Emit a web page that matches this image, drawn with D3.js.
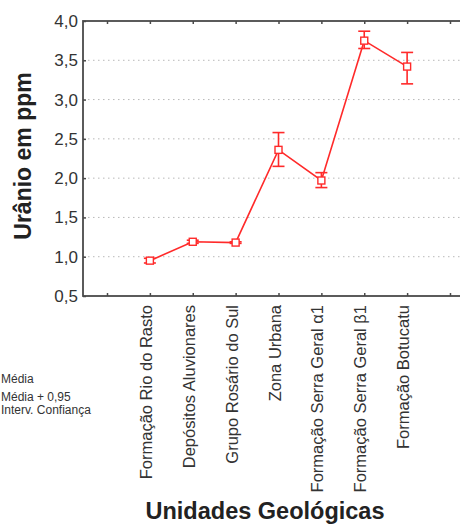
<!DOCTYPE html>
<html>
<head>
<meta charset="utf-8">
<script src="https://cdn.jsdelivr.net/npm/d3@7"></script>
<style>
  html, body { margin: 0; padding: 0; background: #fff; }
  svg { display: block; font-family: "Liberation Sans", Arial, sans-serif; }
</style>
</head>
<body>
<svg id="chart" width="460" height="524"></svg>
<script>
// Geological units and uranium concentration (ppm): mean with 95% confidence interval
const units = [
  "Formação Rio do Rasto",
  "Depósitos Aluvionares",
  "Grupo Rosário do Sul",
  "Zona Urbana",
  "Formação Serra Geral α1",
  "Formação Serra Geral β1",
  "Formação Botucatu"
];
const means = [0.95, 1.19, 1.18, 2.36, 1.97, 3.75, 3.42];
const ciLow = [0.92, 1.17, 1.17, 2.15, 1.88, 3.65, 3.20];
const ciHigh = [0.98, 1.21, 1.19, 2.58, 2.07, 3.87, 3.60];
const yTicks = [0.5, 1.0, 1.5, 2.0, 2.5, 3.0, 3.5, 4.0];
const legendLabels = ["Média", "Média + 0,95", "Interv. Confiança"];

const svg = d3.select("#chart");
const red = "#ff2a2a";
const frameColor = "#4a4a4a";

// x: category slots, with one empty slot on either side
const x = d3.scaleLinear().domain([-0.56, 8.56]).range([83, 474]);
const y = d3.scaleLinear().domain([0.5, 4.0]).range([296, 21]);
const slot = i => i + 1;

const plotL = x.range()[0], plotR = x.range()[1];
const plotT = y.range()[1], plotB = y.range()[0];

// dotted horizontal grid
svg.append("g")
  .selectAll("line")
  .data(yTicks.filter(t => t > 0.5 && t < 4.0))
  .join("line")
  .attr("x1", plotL).attr("x2", plotR)
  .attr("y1", d => y(d)).attr("y2", d => y(d))
  .attr("stroke", "#b8b8b8")
  .attr("stroke-width", 1)
  .attr("stroke-dasharray", "1.5,3.5");

// y axis with comma decimals
const fmt = d => d.toFixed(1).replace(".", ",");
const yAxis = svg.append("g")
  .attr("transform", `translate(${plotL},0)`)
  .call(d3.axisLeft(y).tickValues(yTicks).tickFormat(fmt).tickSize(-3).tickPadding(5));
yAxis.select(".domain").remove();
yAxis.selectAll(".tick line").attr("stroke", frameColor).attr("stroke-width", 1.5);
yAxis.selectAll(".tick text")
  .attr("fill", "#333").attr("font-size", 17)
  .attr("font-family", "Liberation Sans, Arial, sans-serif");

// top and bottom tick marks (inward)
const xTickVals = d3.range(0, 9);
const xb = svg.append("g")
  .attr("transform", `translate(0,${plotB})`)
  .call(d3.axisBottom(x).tickValues(xTickVals).tickSize(-3).tickFormat(""));
xb.select(".domain").remove();
xb.selectAll(".tick line").attr("stroke", frameColor).attr("stroke-width", 1.5);
const xt = svg.append("g")
  .attr("transform", `translate(0,${plotT})`)
  .call(d3.axisTop(x).tickValues(xTickVals).tickSize(-3).tickFormat(""));
xt.select(".domain").remove();
xt.selectAll(".tick line").attr("stroke", frameColor).attr("stroke-width", 1.5);

// plot frame
svg.append("rect")
  .attr("x", plotL).attr("y", plotT)
  .attr("width", plotR - plotL).attr("height", plotB - plotT)
  .attr("fill", "none").attr("stroke", frameColor).attr("stroke-width", 1.8);

// category labels, rotated
svg.append("g")
  .selectAll("text")
  .data(units)
  .join("text")
  .attr("transform", (d, i) => `translate(${x(slot(i)) + 2},${plotB + 9}) rotate(-90)`)
  .attr("text-anchor", "end")
  .attr("font-size", 16.5)
  .attr("fill", "#333")
  .text(d => d);

// mean line
const line = d3.line().x((d, i) => x(slot(i))).y(d => y(d));
svg.append("path")
  .datum(means)
  .attr("d", line)
  .attr("fill", "none")
  .attr("stroke", red)
  .attr("stroke-width", 1.6);

// confidence interval whiskers
const capW = 6;
const err = svg.append("g").attr("stroke", red).attr("stroke-width", 1.6).attr("fill", "none");
units.forEach((u, i) => {
  const cx = x(slot(i));
  err.append("line").attr("x1", cx).attr("x2", cx).attr("y1", y(ciLow[i])).attr("y2", y(ciHigh[i]));
  err.append("line").attr("x1", cx - capW).attr("x2", cx + capW).attr("y1", y(ciLow[i])).attr("y2", y(ciLow[i]));
  err.append("line").attr("x1", cx - capW).attr("x2", cx + capW).attr("y1", y(ciHigh[i])).attr("y2", y(ciHigh[i]));
});

// mean markers: open squares
svg.append("g")
  .selectAll("rect")
  .data(means)
  .join("rect")
  .attr("x", (d, i) => x(slot(i)) - 3.5)
  .attr("y", d => y(d) - 3.5)
  .attr("width", 7).attr("height", 7)
  .attr("fill", "#fff")
  .attr("stroke", red)
  .attr("stroke-width", 1.4);

// axis titles
svg.append("text")
  .attr("transform", `translate(31,156) rotate(-90)`)
  .attr("text-anchor", "middle")
  .attr("font-size", 23).attr("font-weight", "bold")
  .attr("fill", "#222")
  .text("Urânio em ppm");

svg.append("text")
  .attr("x", 265).attr("y", 519)
  .attr("text-anchor", "middle")
  .attr("font-size", 23.5).attr("font-weight", "bold")
  .attr("fill", "#222")
  .text("Unidades Geológicas");

// legend text
const legendPos = [[1, 383], [1, 401], [1, 414]];
svg.append("g")
  .selectAll("text")
  .data(legendLabels)
  .join("text")
  .attr("x", (d, i) => legendPos[i][0])
  .attr("y", (d, i) => legendPos[i][1])
  .attr("font-size", 12)
  .attr("fill", "#333")
  .text(d => d);
</script>
</body>
</html>
